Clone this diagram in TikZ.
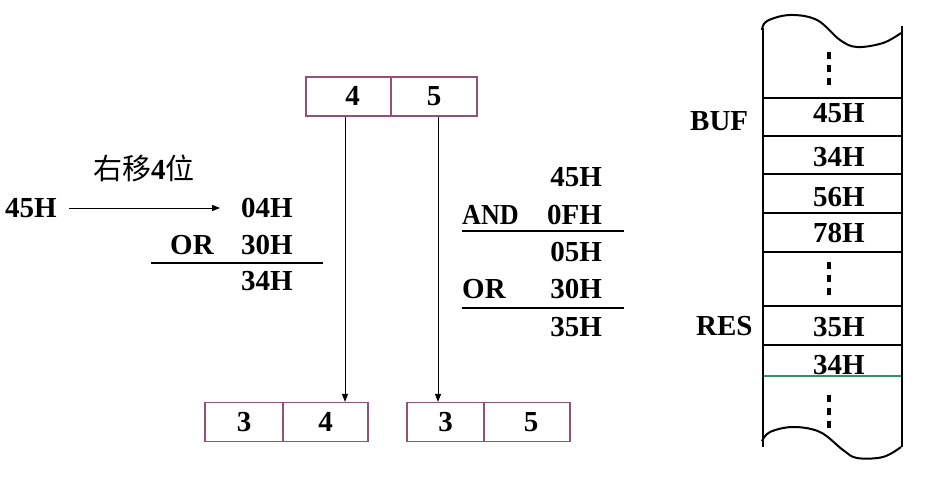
\documentclass[tikz,border=0pt]{standalone}
\usepackage{fontspec}
\setmainfont{Liberation Serif}
\newfontfamily\cjk{Noto Sans CJK SC}
\usetikzlibrary{arrows.meta}
\definecolor{boxc}{RGB}{150,80,120}
\definecolor{grn}{RGB}{55,145,100}
\begin{document}
\begin{tikzpicture}[x=1pt,y=-1pt,
  txt/.style={font=\fontsize{29}{34}\selectfont\bfseries, inner sep=0pt, text height=19pt, text depth=0pt},
  cell/.style={txt, draw=boxc, line width=1.2pt, minimum height=39pt},
  arr/.style={line width=0.9pt, -{Triangle[length=8pt,width=6pt]}},
  rule/.style={line width=1.2pt},
  mem/.style={line width=2.8pt},
  wave/.style={line width=2pt, line join=round},
  vdots/.style={line width=3.5pt, dash pattern=on 7pt off 6pt}]
\useasboundingbox (0,0) rectangle (952,484);

% left computation
\node[txt, anchor=west] (l45) at (5,208) {45H};
\node[txt, anchor=west] (shift) at (93,170) {{\cjk\mdseries 右移}4{\cjk\mdseries 位}};
\node[txt, anchor=east] (l04) at (293,208) {04H};
\node[txt, anchor=west] (lor) at (170,245) {OR};
\node[txt, anchor=east] (l30) at (293,245) {30H};
\node[txt, anchor=east] (l34) at (293,281) {34H};
\coordinate (lr1) at (151,263);
\coordinate (lr2) at (323,263);
\draw[rule] (lr1) -- (lr2);
\draw[arr, shorten <=12pt, shorten >=21pt] (l45.east) -- (l04.west);

% boxes
\node[cell, minimum width=85pt] (t4) at (348.5,96.5) {\hspace*{8pt}4};
\node[cell, minimum width=86pt] (t5) at (434,96.5) {5};
\node[cell, minimum width=78pt] (b3a) at (244,422) {3};
\node[cell, minimum width=85pt] (b4) at (325.5,422) {4};
\node[cell, minimum width=77pt] (b3b) at (445.5,422) {3};
\node[cell, minimum width=86pt] (b5) at (527,422) {\hspace*{8pt}5};
\coordinate (a1) at (345,0);
\coordinate (a2) at (438,0);
\draw[arr] (t4.south -| a1) -- (b4.north -| a1);
\draw[arr] (t5.south -| a2) -- (b3b.north -| a2);

% right computation
\node[txt, anchor=east] (r45) at (602,177) {45H};
\node[txt, anchor=west] (rand) at (462,215) {\scalebox{0.9}[1]{AND}};
\node[txt, anchor=east] (r0f) at (602,215) {0FH};
\node[txt, anchor=east] (r05) at (602,252) {05H};
\node[txt, anchor=west] (ror) at (462,289) {OR};
\node[txt, anchor=east] (r30) at (602,289) {30H};
\node[txt, anchor=east] (r35) at (602,327) {35H};
\coordinate (rr1) at (462,231);
\coordinate (rr2) at (624,231);
\coordinate (rr3) at (462,308);
\coordinate (rr4) at (624,308);
\draw[rule] (rr1) -- (rr2);
\draw[rule] (rr3) -- (rr4);

% memory column
\draw[wave] plot[smooth, tension=0.6] coordinates {(762,30) (767,21) (790,15) (817,20) (840,40) (857,47) (883,43) (901,33)};
\draw[wave] plot[smooth, tension=0.6] coordinates {(762,441) (770,432) (793,427) (820,432) (843,450) (857,458) (883,457) (901,447)};
\draw[mem] (763,28) -- (763,447);
\draw[mem] (902,26) -- (902,447);
\foreach \yy in {98,136,174,213,252,306,345}
  \draw[mem] (763,\yy) -- (902,\yy);
\draw[line width=2.6pt, grn] (764,376) -- (901,376);
\draw[vdots] (829,52) -- (829,86);
\draw[vdots] (829,262) -- (829,296);
\draw[vdots] (829,395) -- (829,429);

\node[txt] (m1) at (839,113) {45H};
\node[txt] (m2) at (839,157) {34H};
\node[txt] (m3) at (839,197) {56H};
\node[txt] (m4) at (839,233) {78H};
\node[txt] (m5) at (839,327) {35H};
\node[txt] (m6) at (839,365) {34H};
\node[txt, anchor=west] (buf) at (690,121) {BUF};
\node[txt, anchor=west] (res) at (696,326) {RES};
\end{tikzpicture}
\end{document}
